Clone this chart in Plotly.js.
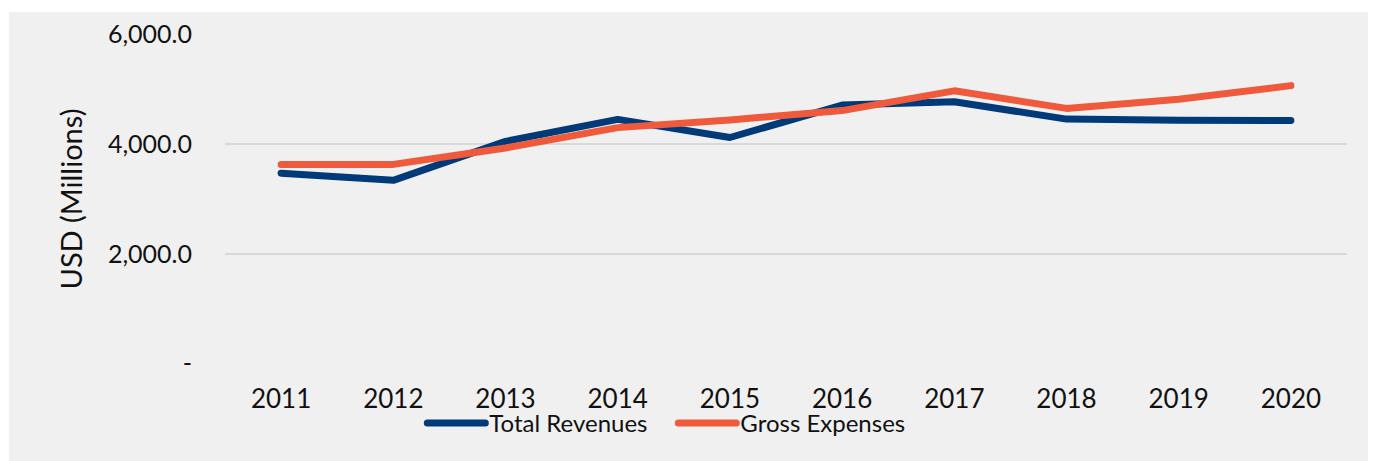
<!DOCTYPE html>
<html>
<head>
<meta charset="utf-8">
<script src="https://cdn.plot.ly/plotly-3.0.1.min.js"></script>
<style>
  html, body { margin: 0; padding: 0; background: #ffffff; }
  #chart { position: absolute; left: 9px; top: 12px; width: 1359px; height: 449px; }
  .js-line { stroke-linecap: round; stroke-linejoin: round; }
</style>
</head>
<body>
<div id="chart"></div>
<script>
const years = ["2011","2012","2013","2014","2015","2016","2017","2018","2019","2020"];
const totalRevenues = [3470, 3340, 4050, 4450, 4120, 4710, 4770, 4455, 4435, 4430];
const grossExpenses = [3630, 3630, 3930, 4300, 4440, 4610, 4970, 4650, 4815, 5065];
const yTickVals = [0, 2000, 4000, 6000];
const yTickText = ["-", "2,000.0", "4,000.0", "6,000.0"];

const fontFam = "Lato, 'Open Sans', sans-serif";

const traces = [
  { x: years, y: totalRevenues, name: "Total Revenues", type: "scatter", mode: "lines",
    line: { color: "#003a78", width: 7 } },
  { x: years, y: grossExpenses, name: "Gross Expenses", type: "scatter", mode: "lines",
    line: { color: "#ee5a3b", width: 7 } }
];

const layout = {
  width: 1359, height: 449,
  paper_bgcolor: "#f0f0f0", plot_bgcolor: "#f0f0f0",
  margin: { l: 216, r: 21, t: 21.7, b: 97.2, autoexpand: false },
  font: { family: fontFam, size: 24, color: "#111111" },
  showlegend: true,
  legend: { orientation: "h", xref: "container", yref: "container",
            x: 0.324, xanchor: "left", y: 0.084, yanchor: "middle",
            entrywidth: 206,
            font: { family: fontFam, size: 24, color: "#111111" }, bgcolor: "rgba(0,0,0,0)",
            itemclick: false, traceorder: "normal" },
  xaxis: { type: "category", range: [-0.5, 9.5], showgrid: false, zeroline: false,
           showline: false, ticks: "", ticklabelstandoff: 17, fixedrange: true, automargin: false,
           tickfont: { family: fontFam, size: 26, color: "#111111" } },
  yaxis: { range: [-5, 6005], tickvals: yTickVals, ticktext: yTickText,
           showgrid: true, gridcolor: "#d9d9d9", gridwidth: 1.5, zeroline: false,
           showline: false, ticks: "", ticklabelstandoff: 32, fixedrange: true, automargin: false,
           tickfont: { family: fontFam, size: 25, color: "#111111" },
           title: { text: "USD (Millions)", standoff: 16, font: { family: fontFam, size: 29, color: "#111111" } } }
};

Plotly.newPlot("chart", traces, layout, { displayModeBar: false, staticPlot: true }).then(function () {
  document.querySelectorAll(".legend .scrollbox").forEach(function (e) { e.removeAttribute("clip-path"); });
  document.querySelectorAll(".legend").forEach(function (e) { e.style.overflow = "visible"; });
  document.querySelectorAll(".legendlines path").forEach(function (p) {
    p.setAttribute("d", "M-22,0h58");
    p.style.strokeLinecap = "round";
  });
});
</script>
</body>
</html>
